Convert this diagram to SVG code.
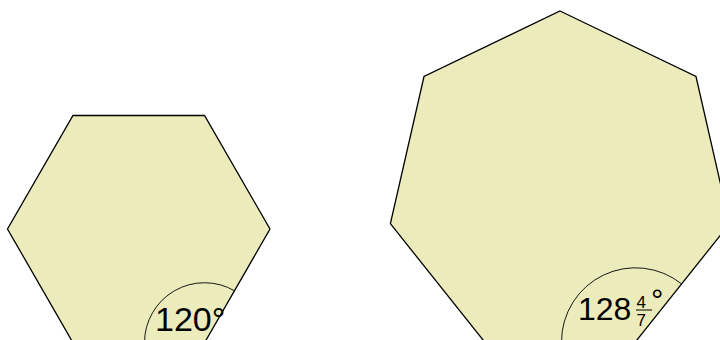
<svg xmlns="http://www.w3.org/2000/svg" width="720" height="340" viewBox="0 0 720 340">
  <style>
    .poly { fill: #ebebbb; stroke: #000; stroke-width: 1.3; stroke-linejoin: miter; }
    .arc { fill: none; stroke: #000; stroke-width: 0.9; }
    .lbl { font-family: "Liberation Sans", Arial, sans-serif; fill: #000; }
  </style>
  <rect width="720" height="340" fill="#fff"/>
  <g id="hexagon">
    <polygon class="poly" points="73,115.5 204.5,115.5 270,229 204.5,342.8 73,342.8 7.5,229"/>
    <path class="arc" d="M 234.7 290.9 A 60 60 0 0 0 144.5 342.8"/>
    <text class="lbl" x="155" y="331" font-size="34">120°</text>
  </g>
  <g id="heptagon">
    <polygon class="poly" points="560,11 696,76.5 729.6,223.7 635.5,341.8 484.5,341.8 390.4,223.7 424,76.5"/>
    <path class="arc" d="M 681.6 283.9 A 74 74 0 0 0 561.5 341.8"/>
    <text class="lbl" x="578" y="320" font-size="32">128</text>
    <text class="lbl" x="636.5" y="308" font-size="17">4</text>
    <line x1="636" y1="310" x2="652" y2="310" stroke="#000" stroke-width="1"/>
    <text class="lbl" x="636.5" y="325.5" font-size="17">7</text>
    <text class="lbl" x="651" y="311" font-size="31">°</text>
  </g>
  <g id="connectors"/>
</svg>
